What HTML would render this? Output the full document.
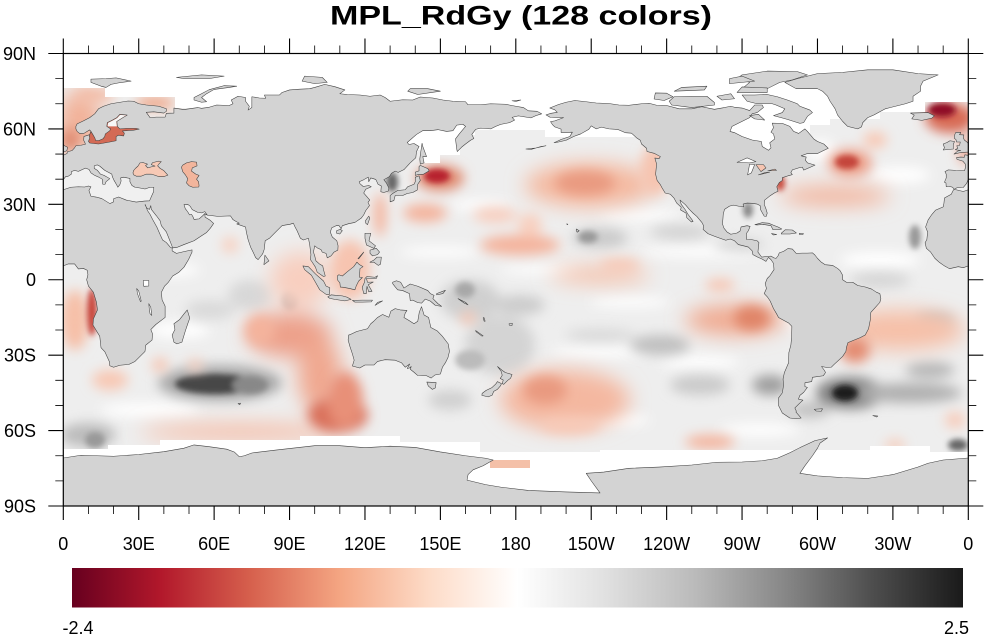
<!DOCTYPE html>
<html>
<head>
<meta charset="utf-8">
<style>
html,body{margin:0;padding:0;background:#fff;}
svg{display:block;}
text{font-family:"Liberation Sans",Arial,Helvetica,sans-serif;fill:#000;}
</style>
</head>
<body>
<svg width="984" height="635" viewBox="0 0 984 635" xmlns="http://www.w3.org/2000/svg">
<defs>
<clipPath id="fc"><rect x="63.3" y="53.5" width="905" height="452.5"/></clipPath>
<clipPath id="oc"><polygon points="63,88 105,88 105,97 175,97 175,108 200,108 200,125 395,125 395,150 420,150 420,163 440,163 440,155 460,155 460,135 475,135 475,130 545,130 545,137 640,137 640,135 720,135 720,162 790,162 790,135 810,135 810,125 830,125 830,119 880,119 880,112 925,112 925,102 968,102 968,452 930,452 930,446 870,446 870,450 600,450 600,452 480,452 480,442 400,442 400,436 300,436 300,440 160,440 160,445 108,445 108,449 63,449"/></clipPath>
<filter id="b1" x="-50%" y="-50%" width="200%" height="200%"><feGaussianBlur stdDeviation="3"/></filter>
<filter id="b2" x="-50%" y="-50%" width="200%" height="200%"><feGaussianBlur stdDeviation="6"/></filter>
<filter id="b3" x="-50%" y="-50%" width="200%" height="200%"><feGaussianBlur stdDeviation="10"/></filter>
<linearGradient id="cb" x1="0" y1="0" x2="1" y2="0">
<stop offset="0" stop-color="#67001f"/>
<stop offset="0.1" stop-color="#b2182b"/>
<stop offset="0.2" stop-color="#d6604d"/>
<stop offset="0.3" stop-color="#f4a582"/>
<stop offset="0.4" stop-color="#fddbc7"/>
<stop offset="0.5" stop-color="#ffffff"/>
<stop offset="0.6" stop-color="#e0e0e0"/>
<stop offset="0.7" stop-color="#bababa"/>
<stop offset="0.8" stop-color="#878787"/>
<stop offset="0.9" stop-color="#4d4d4d"/>
<stop offset="1" stop-color="#1a1a1a"/>
</linearGradient>
</defs>

<!-- Title -->
<text x="330" y="24.5" font-size="26.5" font-weight="bold" textLength="382" lengthAdjust="spacingAndGlyphs">MPL_RdGy (128 colors)</text>

<!-- Ocean data field -->
<g clip-path="url(#oc)">
<rect x="63" y="88" width="906" height="365" fill="#eeeeee"/>
<g filter="url(#b2)" fill="#ffffff">
<ellipse cx="480" cy="205" rx="30" ry="5"/>
<ellipse cx="640" cy="215" rx="40" ry="5"/>
<ellipse cx="700" cy="252" rx="60" ry="5"/>
<ellipse cx="440" cy="252" rx="40" ry="5"/>
<ellipse cx="630" cy="302" rx="40" ry="5"/>
<ellipse cx="600" cy="352" rx="50" ry="5"/>
<ellipse cx="700" cy="362" rx="40" ry="6"/>
<ellipse cx="170" cy="270" rx="30" ry="6"/>
<ellipse cx="180" cy="330" rx="30" ry="8"/>
<ellipse cx="150" cy="410" rx="50" ry="7"/>
<ellipse cx="880" cy="260" rx="40" ry="8"/>
<ellipse cx="820" cy="150" rx="15" ry="10"/>
<ellipse cx="900" cy="175" rx="30" ry="8"/>
<ellipse cx="760" cy="430" rx="40" ry="6"/>
<ellipse cx="620" cy="420" rx="30" ry="5"/>
<ellipse cx="540" cy="270" rx="40" ry="4"/>
<ellipse cx="800" cy="300" rx="20" ry="30"/>
</g>
<g filter="url(#b2)">
<ellipse cx="220" cy="383" rx="62" ry="18" fill="#a8a8a8"/>
<ellipse cx="850" cy="393" rx="34" ry="16" fill="#808080"/>
<ellipse cx="910" cy="393" rx="52" ry="10" fill="#b0b0b0"/>
<ellipse cx="770" cy="385" rx="18" ry="10" fill="#9e9e9e"/>
<ellipse cx="810" cy="410" rx="20" ry="8" fill="#c0c0c0"/>
<ellipse cx="88" cy="435" rx="28" ry="12" fill="#bcbcbc"/>
<ellipse cx="600" cy="238" rx="28" ry="10" fill="#cacaca"/>
<ellipse cx="470" cy="300" rx="30" ry="20" fill="#d0d0d0"/>
<ellipse cx="500" cy="345" rx="35" ry="30" fill="#d4d4d4"/>
<ellipse cx="450" cy="400" rx="22" ry="10" fill="#d0d0d0"/>
<ellipse cx="250" cy="295" rx="22" ry="15" fill="#d8d8d8"/>
<ellipse cx="660" cy="345" rx="30" ry="10" fill="#c0c0c0"/>
<ellipse cx="700" cy="385" rx="30" ry="10" fill="#cacaca"/>
<ellipse cx="935" cy="320" rx="20" ry="8" fill="#c4c4c4"/>
<ellipse cx="930" cy="370" rx="25" ry="8" fill="#b6b6b6"/>
<ellipse cx="520" cy="305" rx="25" ry="10" fill="#cccccc"/>
<ellipse cx="680" cy="232" rx="30" ry="7" fill="#d2d2d2"/>
<ellipse cx="740" cy="245" rx="25" ry="6" fill="#d4d4d4"/>
<ellipse cx="600" cy="335" rx="35" ry="6" fill="#d8d8d8"/>
<ellipse cx="210" cy="310" rx="25" ry="10" fill="#dadada"/>
<ellipse cx="880" cy="280" rx="30" ry="8" fill="#d6d6d6"/>
</g>
<g filter="url(#b1)">
<ellipse cx="215" cy="384" rx="40" ry="10" fill="#464646"/>
<ellipse cx="250" cy="385" rx="18" ry="9" fill="#888888"/>
<ellipse cx="845" cy="393" rx="13" ry="8" fill="#1a1a1a"/>
<ellipse cx="958" cy="445" rx="10" ry="6" fill="#666666"/>
<ellipse cx="95" cy="440" rx="10" ry="8" fill="#999999"/>
<ellipse cx="392" cy="182" rx="6" ry="10" fill="#666666"/>
<ellipse cx="748" cy="210" rx="5" ry="8" fill="#888888"/>
<ellipse cx="588" cy="237" rx="10" ry="6" fill="#999999"/>
<ellipse cx="465" cy="290" rx="10" ry="8" fill="#a8a8a8"/>
<ellipse cx="470" cy="360" rx="15" ry="10" fill="#bbbbbb"/>
<ellipse cx="290" cy="300" rx="8" ry="10" fill="#b8b8b8"/>
<ellipse cx="915" cy="237" rx="6" ry="12" fill="#999999"/>
</g>
<g filter="url(#b3)">
<ellipse cx="590" cy="185" rx="65" ry="22" fill="#f4b9a0"/>
<ellipse cx="565" cy="400" rx="65" ry="30" fill="#f4b8a0"/>
<ellipse cx="900" cy="330" rx="65" ry="20" fill="#f6c0a8"/>
<ellipse cx="735" cy="320" rx="50" ry="15" fill="#f0a98f"/>
<ellipse cx="290" cy="335" rx="42" ry="22" fill="#eda08a"/>
<ellipse cx="320" cy="375" rx="22" ry="38" fill="#f0a890"/>
<ellipse cx="240" cy="432" rx="100" ry="8" fill="#f6bca6"/>
<ellipse cx="300" cy="280" rx="30" ry="28" fill="#f8cfc0"/>
<ellipse cx="80" cy="120" rx="22" ry="30" fill="#f2b29a"/>
<ellipse cx="835" cy="196" rx="55" ry="10" fill="#f3b49c"/>
<ellipse cx="600" cy="275" rx="50" ry="8" fill="#f6c0a8"/>
</g>
<g filter="url(#b2)">
<ellipse cx="585" cy="183" rx="30" ry="12" fill="#e99a80"/>
<ellipse cx="545" cy="390" rx="22" ry="14" fill="#e99a80"/>
<ellipse cx="570" cy="425" rx="30" ry="8" fill="#f8cab8"/>
<ellipse cx="855" cy="350" rx="15" ry="13" fill="#e48c72"/>
<ellipse cx="830" cy="325" rx="10" ry="10" fill="#f4b39c"/>
<ellipse cx="752" cy="318" rx="18" ry="12" fill="#e08468"/>
<ellipse cx="720" cy="285" rx="15" ry="6" fill="#f7c4b0"/>
<ellipse cx="710" cy="442" rx="25" ry="7" fill="#f4b39c"/>
<ellipse cx="338" cy="415" rx="30" ry="18" fill="#d9705a"/>
<ellipse cx="345" cy="400" rx="18" ry="28" fill="#e89078"/>
<ellipse cx="260" cy="330" rx="15" ry="15" fill="#f4b39c"/>
<ellipse cx="350" cy="270" rx="20" ry="30" fill="#f7c4b0"/>
<ellipse cx="75" cy="320" rx="14" ry="30" fill="#f6c0a8"/>
<ellipse cx="110" cy="380" rx="18" ry="10" fill="#f8c8b4"/>
<ellipse cx="160" cy="365" rx="8" ry="7" fill="#f6c4b0"/>
<ellipse cx="195" cy="365" rx="8" ry="6" fill="#f8d0c0"/>
<ellipse cx="230" cy="245" rx="8" ry="8" fill="#f8d0c0"/>
<ellipse cx="440" cy="178" rx="24" ry="13" fill="#e08a70"/>
<ellipse cx="380" cy="215" rx="6" ry="22" fill="#f4b39c"/>
<ellipse cx="425" cy="213" rx="22" ry="9" fill="#f4b39c"/>
<ellipse cx="495" cy="215" rx="22" ry="8" fill="#f8cfc0"/>
<ellipse cx="520" cy="245" rx="40" ry="10" fill="#f4b39c"/>
<ellipse cx="530" cy="225" rx="12" ry="12" fill="#f8d0c0"/>
<ellipse cx="620" cy="265" rx="20" ry="6" fill="#f7c8b5"/>
<ellipse cx="468" cy="318" rx="8" ry="6" fill="#f7c4b0"/>
<ellipse cx="850" cy="163" rx="22" ry="14" fill="#eda08a"/>
<ellipse cx="875" cy="140" rx="12" ry="8" fill="#f8c8b4"/>
<ellipse cx="950" cy="118" rx="25" ry="15" fill="#d86a55"/>
<ellipse cx="965" cy="150" rx="6" ry="15" fill="#eda08a"/>
<ellipse cx="955" cy="420" rx="10" ry="8" fill="#f8cab8"/>
<ellipse cx="895" cy="445" rx="10" ry="5" fill="#f8c8b4"/>
<ellipse cx="95" cy="95" rx="20" ry="6" fill="#f4b8a0"/>
<ellipse cx="155" cy="103" rx="20" ry="6" fill="#f0a080"/>
<ellipse cx="70" cy="140" rx="10" ry="12" fill="#e08a70"/>
<ellipse cx="655" cy="170" rx="15" ry="25" fill="#f6c4b0"/>
</g>
<g filter="url(#b1)">
<ellipse cx="437" cy="176" rx="13" ry="7" fill="#b8202e"/>
<ellipse cx="92" cy="312" rx="5" ry="24" fill="#c8453a"/>
<ellipse cx="847" cy="162" rx="12" ry="7" fill="#c4453a"/>
<ellipse cx="780" cy="183" rx="5" ry="8" fill="#c84a3a"/>
<ellipse cx="942" cy="110" rx="14" ry="7" fill="#8f1028"/>
</g>
</g>
<!-- Ross sea patch -->
<rect x="490" y="460" width="40" height="8" fill="#f4c0a8"/>

<!-- Land -->
<g clip-path="url(#fc)">
<g transform="translate(63.3,279.75) scale(2.514,-2.514)">
<g id="land">
<g fill="#d3d3d3" stroke="#404040" stroke-width="0.22" stroke-linejoin="round">
<!-- Eurasia + Africa -->
<polygon points="-5.6,36 -6.3,36.8 -7.5,37.2 -8.8,37 -8.9,38.5 -9.5,38.8 -8.8,40.5 -8.8,42 -9.3,43 -8,43.7 -5,43.5 -1.5,43.4 -1.2,44.5 -1.2,46 -2.2,47.2 -4.5,47.9 -4.7,48.6 -3,48.8 -1.6,48.7 -1.4,49.7 0,49.5 1.5,50.2 1.6,50.9 2.5,51.1 3.5,51.4 4.5,52.5 5,53.3 7,53.5 8.8,53.9 8.6,54.5 8.1,55.5 8.2,57 10.5,57.7 11,59 10.5,59.6 9.5,59 8,58.1 6.5,58.2 5.5,59 5,60 5,61 5.5,62 8,63.2 10.5,64.5 12.5,66 14,68 16,69 19,70 22,70.5 25.8,71.1 28,71 30,70 33,69.5 38,69 41,68 41,67 40,66.3 36,66.8 33,66.6 34.5,64.5 37,64.7 40.5,64.7 41,66.2 44,66.3 44,68.3 48,67.7 53.5,68.5 55,68.2 58,68.6 61,69.5 66,69.3 67.5,70 66.8,71.5 69.5,73 72.5,72.5 72.5,71 74,69 73.5,67.5 75,68.5 75,72.8 78,72.3 80.5,72.2 80,73.5 86,73.5 87,74.5 90,75.5 94,75.8 98,76 100,76.5 104,77.7 108,76.8 112,75.5 110,74 113,73.7 118,73.5 122,73 126,73.5 128,72.5 130,71 135,71.6 139,71.5 142,72.7 147,72.3 151,71.5 155,71 160,70.8 161,69.6 166,69.6 170,70 176,69.8 180,69 183,68.5 185,67.2 188.5,67 190.3,66 188,65.3 186,64.4 181,65.2 178.5,64.6 179.5,63.5 177.5,62.5 174,61.8 172,61 170,60 166,60.3 164,59.8 162.5,57.8 163.3,56.2 162,55.5 160,54 158.5,52.8 156.7,51 156.5,52 156,56 157.5,58 160,61 159,61.8 156.5,61.5 155,59.3 152.5,59 149,59.7 146,59.3 143,59.3 140.5,57.8 136.8,54.6 137.5,53.8 139.5,54.2 141.5,53 140.5,51 140.2,48.5 138,46.5 135.5,43.8 133.2,42.7 132,43.2 130.5,42.3 129.7,41 127.5,39.8 128.5,38.5 129.5,36.5 129.3,35.3 127.5,34.7 126.3,35 126.5,37.3 125.2,38 124.3,39.9 122.3,40.5 121.5,39 121.3,40.8 119.5,39.8 117.7,39 118,38.2 119.3,37.1 121.5,37.5 122.5,37 120.3,36 119.5,34.5 120.8,33 121.9,31.7 121.2,30.8 121.8,29.5 120.3,27.5 119.5,25.8 118.5,24.5 116,22.8 113.5,22.3 111,21.5 110.5,20.3 109.7,21.5 108.5,21.5 106.8,20.7 106.2,19 107,17 108.8,15.5 109.3,13.5 109.2,11.8 107.7,11 106.5,9.5 105,8.7 104.5,10.5 103,11 102.5,12 101,12.7 100,13.5 99.5,11 100,9.5 100.5,7.5 102,6.2 103.2,5.5 103.5,4 104.2,1.5 103.5,1.3 101,3 100.3,5 99,7 98.3,8 98.5,10 98,14 97.5,16.5 95.5,15.8 94.3,16.5 93,19.5 92.2,21 91.5,22.5 90,22 88.5,21.8 87,21.5 84.5,19 82,16.5 80.3,15.5 79.9,12 79.3,10.3 78.2,8.9 77.5,8 76.5,8.8 75.5,11 74.5,13 73.5,16 72.8,19 72.5,21 69,22.2 70,22.5 68.5,23.3 67.5,23.9 66.5,25.4 61.5,25.2 57.3,25.7 56.3,26.3 56.4,24.9 58.5,23.6 59.8,22.4 58.5,20.5 57,18.8 55,17.5 52,15.5 48,14 45,12.8 43.5,12.7 43.3,12.6 43.3,11.5 45,10.5 48,11.2 51.2,11.9 51.2,11 49.8,8 48,5 46,3 43.5,1.5 41.8,-1 40.3,-2.5 39,-5 39.3,-8 40.5,-10.5 40.5,-15 36.8,-17.8 34.8,-19.8 35.5,-21.5 35.3,-24 32.8,-26 32.5,-28.5 30.5,-30.5 28.5,-32.5 26,-33.7 22.5,-34 20,-34.8 18.5,-34.2 18.3,-32.5 16.5,-28.6 15,-27 14.5,-22.5 11.8,-18 12,-15.5 13.6,-12 13.2,-9 12,-5 10,-2.5 9.3,0 9.8,2 9.5,3.8 8,4.5 6,4.3 4.5,6.3 2,6.3 0,5.5 -2,4.8 -4,5.2 -7.5,4.4 -9.5,5.5 -11.5,6.9 -13.3,8.5 -15,11 -16.7,12.5 -17.2,14.7 -16.5,16 -16.2,19 -17,21 -16,23.8 -14.5,26 -13,27.7 -10,29 -9.7,30.5 -9.5,32.5 -6.8,34 -5.9,35.8"/>
<!-- Americas -->
<polygon points="-168,65.6 -166,66.2 -163.5,66.6 -164.5,67.6 -166.5,68.3 -163,69.7 -160,70.6 -156.5,71.3 -152,70.8 -148,70.3 -143,70.1 -139,69.5 -135,69.4 -130,70 -127,70.2 -124,69.4 -120,69.3 -115,68 -110,68 -106,68.8 -101,67.8 -97,68.5 -94.5,69 -93,68.6 -90,68.3 -87,67.3 -85,69.5 -82,69.5 -81.5,68.5 -84,66.5 -86,66 -87,64.5 -90,63 -94,61 -94.8,59 -93,58.5 -90,57 -86,55.6 -82.3,55 -82,53 -79.5,51.5 -78.5,52.5 -79,54.5 -77,56 -77.5,58 -78.5,58.7 -77.5,60.5 -78,62.3 -74,62.2 -71,61 -69.5,59 -67.5,58.2 -65,60 -64,59 -61.5,56 -60,55 -57.5,54 -55.7,52.3 -58,51.2 -60,50.2 -64,50.2 -66.5,49.3 -64.5,48.8 -64.8,47.5 -64,46.5 -61,45.6 -63,44.7 -65.5,43.6 -66,44.8 -67.5,44.5 -70,43.7 -70.6,42.6 -70,41.8 -71.5,41.4 -74,40.6 -74,39.5 -75.2,38.7 -76.2,37 -75.7,35.2 -77,34.6 -79,33.3 -81,31.7 -81.2,30 -80.5,28.2 -80,26.5 -80.4,25.2 -81.2,25.3 -82,26.7 -82.7,28 -82.8,29.5 -84,30.1 -86,30.4 -88,30.5 -89.6,30.1 -89.3,29 -91,29.2 -93.5,29.7 -95,29.3 -97,28 -97.5,26 -97.6,24.5 -97.8,22.2 -97.2,20.5 -96,19 -94.5,18.1 -92,18.6 -90.8,19.4 -90.4,21 -88,21.5 -86.8,21.2 -87.5,19.5 -88.3,18.4 -88.2,16 -86,15.9 -84,15.5 -83.3,14.8 -83.6,12 -83.7,11 -82.2,9 -80,9.3 -78.5,9.4 -77.3,8.7 -76.5,8.5 -75.7,9.5 -75.2,10.7 -73.5,11.3 -71.8,12.4 -70,12.2 -68.5,10.5 -66,10.6 -64,10.6 -62,10.7 -61,9.8 -60,8.5 -58.5,7 -57,6 -54,5.7 -52,4.5 -51,3.6 -50,1.8 -50,0 -48.5,-1 -46,-1 -44,-2.3 -41,-2.9 -38.5,-3.7 -36.5,-5 -35.2,-5.5 -34.8,-7.5 -35.2,-9 -37,-11 -38.8,-13 -39,-16 -39.7,-19.5 -41,-22 -43,-23 -45,-23.8 -47.9,-25 -48.5,-27 -48.7,-28.5 -50,-30.5 -52,-32.4 -53.4,-33.7 -54.5,-34.8 -56.2,-34.9 -58.4,-34.5 -57.3,-36 -56.8,-36.9 -57.7,-38.2 -62,-38.8 -62.3,-40.5 -65,-41 -65,-42.5 -64,-42.8 -65.5,-44.8 -67,-46 -67.6,-47.5 -65.8,-47.9 -67.5,-49.5 -69,-51 -68.4,-52.3 -68.6,-52.6 -66.5,-55 -68.5,-55.3 -71,-55 -74,-53 -75.5,-50 -75.5,-47 -74,-45 -73.5,-42 -73.7,-39.5 -73.2,-37 -71.5,-33 -71.4,-29 -70.6,-26 -70.3,-23 -70.2,-18.5 -71.5,-17.2 -75.5,-15 -76.3,-13.5 -77.5,-11.5 -78.8,-8.5 -79.8,-7 -81.2,-5.5 -80.3,-3.5 -80.8,-1.5 -80,0.5 -79,1.5 -78,3 -77.3,4 -77.5,6.5 -78.5,8 -79.5,8.9 -80.5,7.3 -82,8.2 -83.8,9 -85.7,10 -86,11.5 -87.5,13 -89,13.4 -91.5,14 -93,15.5 -94.7,16.2 -96.5,15.7 -98.5,16.4 -101,17.3 -103.5,18.3 -105.5,20 -105.3,21.5 -106,22.8 -108,25.2 -109.5,26.5 -111,28 -112.5,29.8 -114.7,31.7 -114.2,30 -112.7,28 -111.5,26 -110,24 -109.5,23.2 -110.2,23 -112,24.7 -112.3,26.5 -114.5,27.8 -114.2,28.8 -116,30.5 -117.1,32.5 -118.5,34 -120.6,34.5 -121.8,36.5 -122.5,37.8 -123.8,39.5 -124.4,42 -124,46 -124.7,48.4 -123,48.2 -122.5,49 -125,50.3 -127.8,51 -128,52.3 -130,54 -130.5,55.5 -132,56.5 -134,58.3 -136.5,58.5 -139.5,59.8 -143,60 -146,60.7 -148,60 -150,61.2 -151,59.8 -154.2,58 -157,57 -160,55.5 -163,54.8 -164.8,54.5 -162,55.8 -158.5,57 -157.5,58.7 -160,58.6 -162,58.6 -162,59.9 -164.5,60.8 -165.5,61.8 -166.2,62.9 -164.5,63.2 -161,64.5 -163.5,64.5 -166.3,64.6"/>
<!-- Greenland & Canadian Arctic -->
<polygon points="-73,78.5 -68.5,76 -60,76 -58,75 -56,73 -55,71 -54,69.5 -53,68 -52,65.5 -50,63 -48,61 -44,60 -42.5,60.8 -42,62.5 -40,64.5 -37.5,65.6 -33,68 -25,70 -22,71 -22,73 -19,75 -19,77 -18,79 -12,81.5 -20,82 -30,83.5 -40,83.5 -50,82.5 -60,82 -64,81 -68,80"/>
<polygon points="-62,66.5 -64,65 -65.5,62.5 -67,62.2 -72,63.8 -74.5,64.5 -77.5,65.3 -74,66.5 -73,68 -76.5,69.5 -78,70 -84,70 -88,71 -90,73.5 -85,73.5 -80,73.7 -76,72.8 -72,71.5 -68,70 -67,69 -63,67.5"/>
<polygon points="-85,64 -81,63.5 -83.5,65.8 -87,65.3"/>
<polygon points="-118,69.5 -110,68.5 -101,69.5 -101,70.5 -104,73 -110,73 -117,72.8 -119,71"/>
<polygon points="-125,71.9 -121,71.3 -117.5,72.8 -120,74.2 -124.5,74.3"/>
<polygon points="-90,76 -80,76 -75,78.5 -70,79.5 -64,81.5 -68,82.8 -80,83 -90,81.5 -92,80 -87,78.5"/>
<polygon points="-92,74.5 -80,74.5 -80,76.3 -90,76.7"/>
<polygon points="-98,71.5 -93,72 -94.5,74 -100,73"/>
<polygon points="-117,75 -105,75.5 -104,77 -114,76.5"/>
<polygon points="-95,78 -85,79 -90,81 -95,80"/>
<!-- Caribbean -->
<polygon points="-84.9,21.9 -82,22.7 -79.5,22.5 -77.5,21.7 -75.7,21 -74.2,20.2 -75.5,19.9 -77.7,19.9 -78.5,21.5 -81.5,22 -84,21.8"/>
<polygon points="-74.4,18.5 -72.8,19.9 -70,19.8 -68.4,18.6 -71,18.2 -74.4,18.2"/>
<polygon points="-78.3,18.4 -76.2,18 -77.5,17.8"/>
<polygon points="-67.2,18.5 -65.6,18.4 -65.8,18 -67.2,18"/>
<!-- Europe islands -->
<polygon points="-5.7,50 -3,50.6 0,50.8 1.4,51.3 1.7,52.7 0.3,53.4 -0.2,54.5 -1.6,55.6 -2,56.5 -1.8,57.6 -3.5,57.7 -3,58.6 -5,58.6 -5.5,57.5 -5.6,56.3 -4.9,55.7 -4.7,54.8 -3.2,54.8 -3.5,53.4 -4.6,53.3 -4.2,52.3 -5.2,51.7 -3,51.4 -4.2,51.2"/>
<polygon points="-10,51.6 -6,52 -6,53.8 -5.5,55 -7.3,55.3 -8.5,54.6 -10,54 -9.5,52.5"/>
<polygon points="-22.5,64 -21.5,65.5 -23,66.3 -16,66.5 -13.5,65.2 -14.5,64.3 -18.5,63.4"/>
<polygon points="11,78.5 15,77 17,76.5 19,77.7 22,78.3 27,79 21,80.3 17,80 11,79.8"/>
<polygon points="45,80.5 55,81.5 64,81 58,80 48,80"/>
<polygon points="52,71.5 55,70.6 57,70.8 55,72.5 57,74 60,75.7 66,76.5 69,77 64,77.2 58,75.6 54,73.5 52,72.5"/>
<polygon points="95,79 100,78 105,78.5 103,80.5 96,81"/>
<polygon points="137,75 141,73.7 150,75 145,76 138,76"/>
<polygon points="178.5,71.2 182,71.5 180,70.9"/>
<!-- Med islands -->
<polygon points="12.4,38.1 15.6,38.3 15.1,36.7 12.5,37.6"/>
<polygon points="8.4,41 9.8,41 9.6,39 8.5,38.9"/>
<polygon points="8.6,42.9 9.5,43 9.5,41.4 8.8,41.6"/>
<polygon points="23.5,35.6 26.3,35.3 24.5,34.9"/>
<polygon points="32.3,35 34.6,35.6 33.5,34.6"/>
<!-- Asia islands -->
<polygon points="130,31 131.5,31.5 132,33.5 135,33.5 136.8,34.3 139,34.7 140.8,35.7 141,38 142,39.5 141.5,41.3 140,40.8 140,39 139.5,38 137,37 136,35.8 133,35.5 131,34.3 130,33.5"/>
<polygon points="140,41.5 141,41.8 143.3,42 145.5,43.3 145,44.2 142,45.5 141.5,45 141.5,43.3 140,42.8"/>
<polygon points="142,46 143.5,46.5 143,49 144.5,49 143,53 142.7,54.3 142.2,51 141.8,48"/>
<polygon points="120.3,22.5 121,21.9 121.9,24.5 121.5,25.3 120.2,23.5"/>
<polygon points="108.7,18.5 110,18.2 111,19.5 110.2,20.1 108.7,19.5"/>
<polygon points="120,18.5 122.3,18.5 121.6,15.5 124.2,13.5 123.5,12.5 120.6,13.8 120,16.5"/>
<polygon points="122,7 123.5,7.8 124.8,9 126.5,9 126.2,6.2 125.3,5.7 123.5,7 122,6.9"/>
<polygon points="122,11.8 124.5,12.5 125.8,11 125,10 123,9.5 122,10.5"/>
<polygon points="117.2,8.4 119.5,11 119.2,10.5 117.5,8.3"/>
<polygon points="109,1.5 109.6,2 111,1.5 113,3.2 115.5,5.2 116.8,7 117.8,6 119.2,5.2 118,4.4 117.8,1 119,0.9 117.5,-0.5 116.5,-2.5 116,-4 114,-3.5 111.5,-3 110.2,-2.9 110,-1.2 109,0"/>
<polygon points="95.3,5.5 97.5,5.2 100.4,2.2 103.5,-0.5 104.5,-2.5 106,-3.2 105.9,-5.8 104.5,-5.8 102,-4 100.3,-1 98.7,1.8 96,4"/>
<polygon points="105.2,-6.8 106.5,-6 108.3,-6.2 111,-6.4 112.8,-6.9 114.5,-7.8 112,-8.4 108,-7.8 106,-7.4"/>
<polygon points="115,-8.2 119,-8.1 123,-8.1 122.5,-8.8 119,-8.9 116,-8.9"/>
<polygon points="124,-10.2 127,-8.4 125,-9"/>
<polygon points="119.5,-5.5 120.5,-5.5 120.8,-2.6 121.5,-4.8 122.8,-4.6 121.3,-2 123.3,-0.9 121,-1 120.6,0.5 124.5,0.5 125,1.6 124,1 120.8,1.3 120,0.5 119.8,-1 118.9,-3"/>
<polygon points="131,-1 132.5,-0.4 134.2,-1 135.5,-3.3 138,-1.7 141,-2.6 145,-4.3 146,-5.5 147.5,-6.2 147,-7.5 149,-9.5 150.5,-10.6 148,-10.2 146,-8.5 144,-7.7 142.5,-9.3 141,-9.1 139,-8.1 138,-8.3 137.7,-5.5 135,-4.3 133,-4 132,-2.8 131,-1.5"/>
<polygon points="148.5,-5.5 152,-4.2 151,-5.5 148.5,-6"/>
<polygon points="79.8,6 81.8,7.5 80.2,9.8"/>
<polygon points="49.3,-12 50.3,-15.3 49.5,-17.5 48.5,-20.5 47.2,-24.8 45.2,-25.5 44,-24.8 43.3,-22 44.4,-19.8 44,-17.5 46.3,-15.8 48,-13.6"/>
<!-- Australia / NZ / Pacific -->
<polygon points="113.5,-22 114.2,-21.8 116.7,-20.6 119,-20 121,-19.5 122.3,-17.5 123.5,-16.5 125,-15 127,-13.8 129.5,-14.9 130.3,-12.5 132,-11.5 134,-12 136.7,-12.2 136,-13.3 135.5,-15 137.5,-16.2 139.5,-17.5 141,-16.5 141.6,-12.9 142.5,-10.7 143.5,-14 145.3,-15 146.2,-19 148.8,-20.4 150.8,-22.5 153.1,-25.5 153.6,-28.5 153,-31 152,-33 150.8,-34.8 150,-37.5 147.8,-37.9 146.3,-39.1 144.5,-38.2 141,-38.1 139.5,-36.8 138,-35.6 138.4,-34.5 137.7,-35.1 136.8,-35.3 137.8,-33.5 136,-34.8 134.5,-33 132,-32 128,-31.8 125,-32.5 123.6,-33.9 120,-33.9 117.9,-35.1 115,-34.3 115.7,-32 115,-29.5 114,-26.5 113.3,-24"/>
<polygon points="144.6,-40.7 148.3,-40.9 148,-43 146.8,-43.6 145.2,-42.3"/>
<polygon points="172.7,-34.5 174.5,-36 175.8,-36.9 178.5,-37.7 177.9,-39.2 176.8,-40 175.2,-41.6 174.6,-41.3 175,-39.9 173.8,-39.3 174.6,-38 174.2,-36.5"/>
<polygon points="172.7,-40.5 174.3,-41.3 173.9,-42.2 172.7,-43.6 171.2,-44.4 170.6,-45.9 169,-46.6 166.5,-46 166.6,-45.2 168.2,-44 170.5,-42.9 172,-41.5"/>
<polygon points="164,-20.2 167,-22.3 166.5,-22.4 164.2,-20.7"/>
<polygon points="177.3,-17.5 178.6,-17.3 178.5,-18.2 177.4,-18.1"/>
<polygon points="167,-15.2 167.3,-15 167.8,-16.5 167.4,-16.5"/>
<polygon points="157,-7.5 160,-9 161,-10 159.5,-9.3"/>
<polygon points="-155.9,20.2 -154.8,19.5 -155.6,18.9 -156,19.7"/>
<polygon points="-159.8,22.2 -159.3,22.1 -159.5,21.9"/>
<polygon points="-176,52 -172,52.4 -168,53.3 -170,53 -174,51.8"/>
<polygon points="69.5,-49.3 70.5,-49.1 70.2,-49.7"/>
<polygon points="-61.3,-51.5 -58,-51.3 -58.5,-52.3 -60.5,-52.2"/>
<polygon points="-38,-54 -36,-54.2 -36.5,-54.6"/>
</g>
<!-- inland seas & lakes -->
<g stroke="#404040" stroke-width="0.22" stroke-linejoin="round">
<polygon fill="#f0f0f0" points="-5.6,36 -5.3,35.9 -2,35.1 0,35.8 3,36.8 6,37 8.5,36.9 10,37.3 11,37 10.2,35.5 11,33.2 13,32.9 15.3,32.3 18.5,30.3 20,31 20,32.2 22,32.9 25,31.7 29,30.9 32.3,31.3 34.3,31.4 35,33 35.9,35 36,36.8 34.5,36.8 32.5,36.1 30.5,36.5 28.5,36.8 27.3,37.5 26.5,39 26.5,40.3 24,40.8 22.8,40.5 23,39.3 22.5,37.8 21.7,36.8 21.2,37.8 20.2,39.5 19.5,41 19.3,42 16.5,43.5 14.5,45.2 13.5,45.7 12.3,45.3 12.3,44.3 13.6,43.5 14.8,42 16.2,41.5 18,40.5 18.5,40.2 17,39 16.6,38 15.7,38 15.5,40 14.3,40.7 12.5,41.5 11,42.5 10.2,43.9 8.8,44.4 7.5,43.8 6,43.1 4.5,43.5 3.2,43 3.2,42 2,41.2 0.9,41 0,39.8 -0.3,39.3 -0.7,38.3 -2,36.7 -4.5,36.6"/>
<polygon fill="#f7c9b5" points="27.7,42.5 28,43.5 28.7,44.3 29.7,45.2 30.5,46.5 31.8,46.6 33.5,46 32.7,45.4 33.6,44.5 35,44.9 36.5,45.2 35,45.8 35.5,46.6 38,47.2 39,47 38,46 37.5,45.3 38.5,44.3 40,43.4 41.6,41.6 40,41 38,41 36,41.7 35,42 33,42 31,41.2 29,41.2 28,41.7"/>
<polygon fill="#f2b59c" points="47,44.8 47.5,45.6 49,46.5 51,47 53,46.8 53.2,45.3 51.3,44.5 51,43.2 52.7,42 54,41.5 53,40 53.8,39 54,37.5 53.9,36.9 51.5,36.8 50,37.4 49,38.5 49.5,40.2 48.5,41.8 47.5,43"/>
<polygon fill="#ebebeb" points="32.6,29.9 33.5,27.5 34.5,26 35.5,24 37.2,21 38.5,18 39.5,15.8 41,14.8 42.5,13 43.3,12.6 43.5,12.7 42.8,14.5 42.2,16 41,19 39,21.5 38.5,23.5 37,25.5 35,28 34.8,29.5 34.3,28 33.3,28.4 32.5,29.8"/>
<polygon fill="#eeeeee" points="48,29.9 49.5,30 50.5,29.2 51.3,27.9 53.5,26.8 55,26.6 56.3,27.1 57.3,25.7 56.3,26.3 56.1,26.2 55.5,25.5 54,24.2 52,24 51.5,25.2 51,26 50.2,25.8 49.5,27 48.5,28.3"/>
<polygon fill="#d36a55" points="10.5,57.7 11,59 11.8,57.7 12.5,56.5 12.9,55.4 14.2,55.4 15.8,56.1 16.5,57 16.7,58 18.5,59.3 18.8,60 17.3,61 17.5,62.5 19.5,63.5 21.3,64.5 22.5,65.8 25.4,65.5 24.5,65 21.3,63 21.5,61 22.5,60 25,60.2 29,60.2 30.2,59.9 28,59.5 23.5,59.2 24.3,58.3 24,57.2 22,57.5 21,57 21,55.3 18,54.7 14,54 12,54.2 10.5,54.4 10,55 10.5,56.4 10.3,57.2"/>
<polygon fill="#f6f6f6" stroke="none" points="17.6,61 17.8,62.4 19.6,63.3 21.4,64.3 22.6,65.6 25.1,65.4 24.3,65 21.1,63 21.3,61"/>
<polygon fill="#ffffff" points="-92,46.7 -88,48.5 -84.5,47 -87,46.5"/>
<polygon fill="#ffffff" points="-87.8,41.7 -87,46 -85,45.8 -86.3,42.5"/>
<polygon fill="#f6c4b0" points="-84.5,45.8 -82.5,43 -80.5,44.5 -81.5,45.8"/>
<polygon fill="#f6c4b0" points="-83.5,41.7 -79,42.8 -81,42.6"/>
<polygon fill="#f6c4b0" points="-79.8,43.3 -76.3,43.5 -77,44"/>
<polygon fill="#ffffff" points="31.8,-0.3 34,-0.3 34,-2.5 32,-2.6"/>
<polygon fill="#ffffff" points="29.2,-3.5 30,-4.5 31,-8.5 30.7,-8.7 29.5,-5.5"/>
<polygon fill="#ffffff" points="34,-9.5 34.8,-11 35.2,-14.2 34.5,-13.5 34.2,-11.5"/>
</g>
</g>
<use href="#land" x="360"/>
<!-- Antarctica -->
<polygon fill="#d3d3d3" stroke="#404040" stroke-width="0.22" stroke-linejoin="round" points="-10,-70.6 0,-70.9 7,-69.8 20,-70.2 30,-69.5 40,-68.4 48,-67 52,-65.7 58,-66.4 65,-67.4 68,-68.5 70,-70.4 72,-70 75,-68.9 85,-67.7 100,-66 110,-66 120,-66.8 130,-66.2 140,-66.7 150,-68.5 160,-70 168,-71 171,-71.7 167,-74 163,-75.6 161,-77.5 160.6,-79.7 168,-81.5 174,-82.5 185,-83.8 200,-84.4 213.5,-84.8 210,-80 208,-77 215,-76.5 225,-75 237,-74.5 250,-73.7 260,-72.6 270,-72.5 278,-72 284,-71 289,-68.8 293,-66.8 299,-64 304,-62.9 301,-65 300,-67 298,-70 295,-74 293,-77 300,-78 310,-78.7 320,-79 330,-77.5 340,-74.5 344,-73 350,-71.7 360,-70.9 370,-70.6 370,-95 -10,-95"/>
</g>
</g>

<!-- Frame -->
<rect x="63.3" y="53.5" width="905" height="452.5" fill="none" stroke="#000" stroke-width="1.2"/>
<!-- Ticks -->
<path fill="none" stroke="#000" stroke-width="1.1" d="
M63.3 506v14M138.72 506v14M214.13 506v14M289.55 506v14M364.97 506v14M440.39 506v14M515.8 506v14M591.22 506v14M666.64 506v14M742.05 506v14M817.47 506v14M892.89 506v14M968.3 506v14
M63.3 53.5v-15M138.72 53.5v-15M214.13 53.5v-15M289.55 53.5v-15M364.97 53.5v-15M440.39 53.5v-15M515.8 53.5v-15M591.22 53.5v-15M666.64 53.5v-15M742.05 53.5v-15M817.47 53.5v-15M892.89 53.5v-15M968.3 53.5v-15
M63.3 53.5h-15M63.3 128.92h-15M63.3 204.33h-15M63.3 279.75h-15M63.3 355.17h-15M63.3 430.59h-15M63.3 506h-15
M968.3 53.5h15M968.3 128.92h15M968.3 204.33h15M968.3 279.75h15M968.3 355.17h15M968.3 430.59h15M968.3 506h15"/>
<path fill="none" stroke="#000" stroke-width="0.8" d="
M88.44 506v8M113.58 506v8M163.86 506v8M189 506v8M239.27 506v8M264.41 506v8M314.69 506v8M339.83 506v8M390.11 506v8M415.25 506v8M465.52 506v8M490.66 506v8M540.94 506v8M566.08 506v8M616.36 506v8M641.5 506v8M691.78 506v8M716.92 506v8M767.19 506v8M792.33 506v8M842.61 506v8M867.75 506v8M918.03 506v8M943.17 506v8
M88.44 53.5v-8M113.58 53.5v-8M163.86 53.5v-8M189 53.5v-8M239.27 53.5v-8M264.41 53.5v-8M314.69 53.5v-8M339.83 53.5v-8M390.11 53.5v-8M415.25 53.5v-8M465.52 53.5v-8M490.66 53.5v-8M540.94 53.5v-8M566.08 53.5v-8M616.36 53.5v-8M641.5 53.5v-8M691.78 53.5v-8M716.92 53.5v-8M767.19 53.5v-8M792.33 53.5v-8M842.61 53.5v-8M867.75 53.5v-8M918.03 53.5v-8M943.17 53.5v-8
M63.3 78.64h-8M63.3 103.78h-8M63.3 154.06h-8M63.3 179.2h-8M63.3 229.47h-8M63.3 254.61h-8M63.3 304.89h-8M63.3 330.03h-8M63.3 380.31h-8M63.3 405.45h-8M63.3 455.73h-8M63.3 480.87h-8
M968.3 78.64h8M968.3 103.78h8M968.3 154.06h8M968.3 179.2h8M968.3 229.47h8M968.3 254.61h8M968.3 304.89h8M968.3 330.03h8M968.3 380.31h8M968.3 405.45h8M968.3 455.73h8M968.3 480.87h8"/>

<!-- Axis labels -->
<g font-size="18" text-anchor="end">
<text x="36" y="60">90N</text>
<text x="36" y="135.4">60N</text>
<text x="36" y="210.8">30N</text>
<text x="36" y="286.2">0</text>
<text x="36" y="361.7">30S</text>
<text x="36" y="437.1">60S</text>
<text x="36" y="512.5">90S</text>
</g>
<g font-size="18" text-anchor="middle">
<text x="63.3" y="550">0</text>
<text x="138.72" y="550">30E</text>
<text x="214.13" y="550">60E</text>
<text x="289.55" y="550">90E</text>
<text x="364.97" y="550">120E</text>
<text x="440.39" y="550">150E</text>
<text x="515.8" y="550">180</text>
<text x="591.22" y="550">150W</text>
<text x="666.64" y="550">120W</text>
<text x="742.05" y="550">90W</text>
<text x="817.47" y="550">60W</text>
<text x="892.89" y="550">30W</text>
<text x="968.3" y="550">0</text>
</g>

<!-- Colorbar -->
<rect x="72" y="568" width="891" height="39.5" fill="url(#cb)"/>
<text x="62.5" y="634" font-size="18">-2.4</text>
<text x="969" y="634" font-size="18" text-anchor="end">2.5</text>
</svg>
</body>
</html>
